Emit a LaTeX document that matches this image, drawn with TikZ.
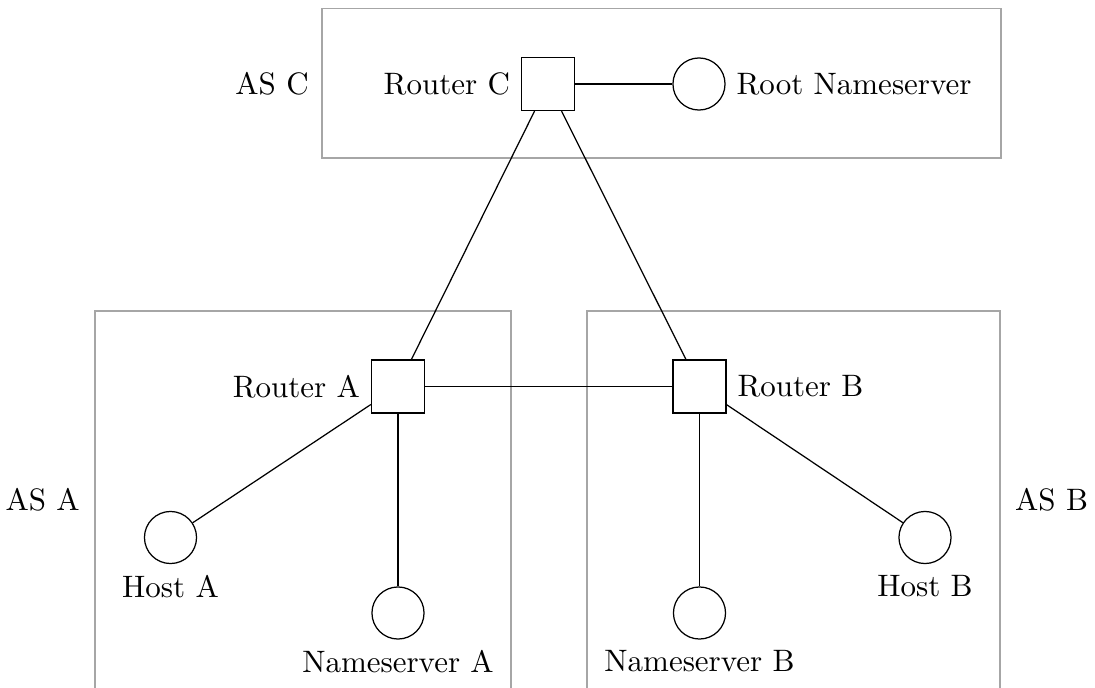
\documentclass[tikz,border=0pt]{standalone}
\usetikzlibrary{positioning}
\begin{document}
\begin{tikzpicture}[x=0.3226pt,y=-0.3226pt,
  router/.style={draw, rectangle, minimum size=17.1pt, inner sep=0pt},
  server/.style={draw, circle, minimum size=16.8pt, inner sep=0pt},
  asbox/.style={draw=black!35, rectangle, inner sep=0pt},
  link/.style={draw, line width=0.4pt}]
\useasboundingbox (0,0) rectangle (1095,687);
% AS boxes
\node[asbox, minimum width=219pt, minimum height=48.2pt, label={[label distance=0.6pt]left:AS C}] (asc) at (661.5,83.4) {};
\node[asbox, minimum width=134.2pt, minimum height=121.9pt, label={[label distance=1.2pt]left:AS A}] (asa) at (303,500) {};
\node[asbox, minimum width=133.2pt, minimum height=121.9pt, label={[label distance=1.2pt]right:AS B}] (asb) at (793.5,500) {};
% routers
\node[router, label=left:Router C] (rc) at (548,84) {};
\node[router, label=left:Router A] (ra) at (398,386.5) {};
\node[router, label=right:Router B] (rb) at (699.5,386.5) {};
% servers and hosts
\node[server, label=right:Root Nameserver] (root) at (699,84) {};
\node[server, label=below:Host A] (ha) at (170.5,537.5) {};
\node[server, label=below:Nameserver A] (nsa) at (398,613) {};
\node[server, label=below:Host B] (hb) at (925,537.5) {};
\node[server, label=below:Nameserver B] (nsb) at (699.5,613) {};
% links
\draw[link] (rc) -- (root);
\draw[link] (rc) -- (ra);
\draw[link] (rc) -- (rb);
\draw[link] (ra) -- (rb);
\draw[link] (ra) -- (ha);
\draw[link] (ra) -- (nsa);
\draw[link] (rb) -- (hb);
\draw[link] (rb) -- (nsb);
\end{tikzpicture}
\end{document}
